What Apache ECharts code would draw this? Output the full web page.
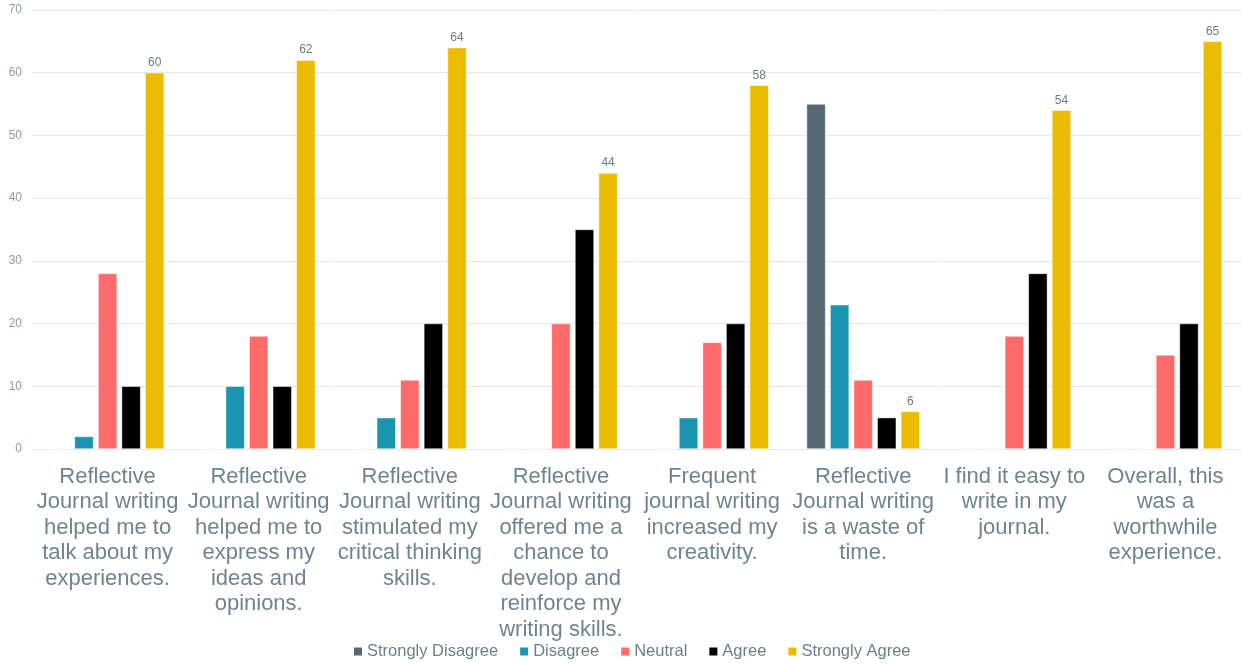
<!DOCTYPE html>
<html>
<head>
<meta charset="utf-8">
<script src="https://cdn.jsdelivr.net/npm/echarts@6/dist/echarts.min.js"></script>
<style>html,body{margin:0;padding:0;background:#fff}#c{width:1241px;height:664px}</style>
</head>
<body>
<div id="c"></div>
<script>
const categories = [
  "Reflective\nJournal writing\nhelped me to\ntalk about my\nexperiences.",
  "Reflective\nJournal writing\nhelped me to\nexpress my\nideas and\nopinions.",
  "Reflective\nJournal writing\nstimulated my\ncritical thinking\nskills.",
  "Reflective\nJournal writing\noffered me a\nchance to\ndevelop and\nreinforce my\nwriting skills.",
  "Frequent\njournal writing\nincreased my\ncreativity.",
  "Reflective\nJournal writing\nis a waste of\ntime.",
  "I find it easy to\nwrite in my\njournal.",
  "Overall, this\nwas a\nworthwhile\nexperience."
];
const seriesNames = ["Strongly Disagree", "Disagree", "Neutral", "Agree", "Strongly Agree"];
const stronglyDisagree = [0, 0, 0, 0, 0, 55, 0, 0];
const disagree = [2, 10, 5, 0, 5, 23, 0, 0];
const neutral = [28, 18, 11, 20, 17, 11, 18, 15];
const agree = [10, 10, 20, 35, 20, 5, 28, 20];
const stronglyAgree = [60, 62, 64, 44, 58, 6, 54, 65];
const yTicks = {min: 0, max: 70, interval: 10};

const colors = ["#566871", "#1a94b1", "#ff6b6b", "#000000", "#ebbc00"];
const values = [stronglyDisagree, disagree, neutral, agree, stronglyAgree];
const font = "'Liberation Sans', Arial, sans-serif";

const chart = echarts.init(document.getElementById('c'), null, {renderer: 'canvas'});
chart.setOption({
  animation: false,
  color: colors,
  textStyle: {fontFamily: font},
  grid: {left: 32, right: -1, top: 10, bottom: 215, containLabel: false},
  legend: {
    top: 643, left: 352, padding: 0,
    icon: 'rect', itemWidth: 10, itemHeight: 10, itemGap: 20,
    textStyle: {fontSize: 16.5, color: '#6b7f8a', fontFamily: font, padding: [0,0,0,-1]},
    data: seriesNames
  },
  xAxis: {
    type: 'category', data: categories,
    axisLine: {show: false}, axisTick: {show: false},
    axisLabel: {interval: 0, fontSize: 22, lineHeight: 25.5, color: '#6e8591', margin: 15, fontFamily: font}
  },
  yAxis: {
    type: 'value', min: yTicks.min, max: yTicks.max, interval: yTicks.interval,
    axisLabel: {fontSize: 12, color: '#8c9ba5', margin: 10, fontFamily: font},
    splitLine: {lineStyle: {color: '#e5e8ea', width: 1}},
    axisLine: {show: false}, axisTick: {show: false}
  },
  series: seriesNames.map((n, i) => ({
    name: n, type: 'bar', data: values[i],
    barWidth: 19, barGap: '24%',
    itemStyle: {color: colors[i], borderColor: '#ffffff', borderWidth: 0.5},
    label: i === 4 ? {show: true, position: 'top', distance: 4, fontSize: 12, color: '#6b7b85', fontFamily: font} : {show: false}
  }))
});
</script>
</body>
</html>
